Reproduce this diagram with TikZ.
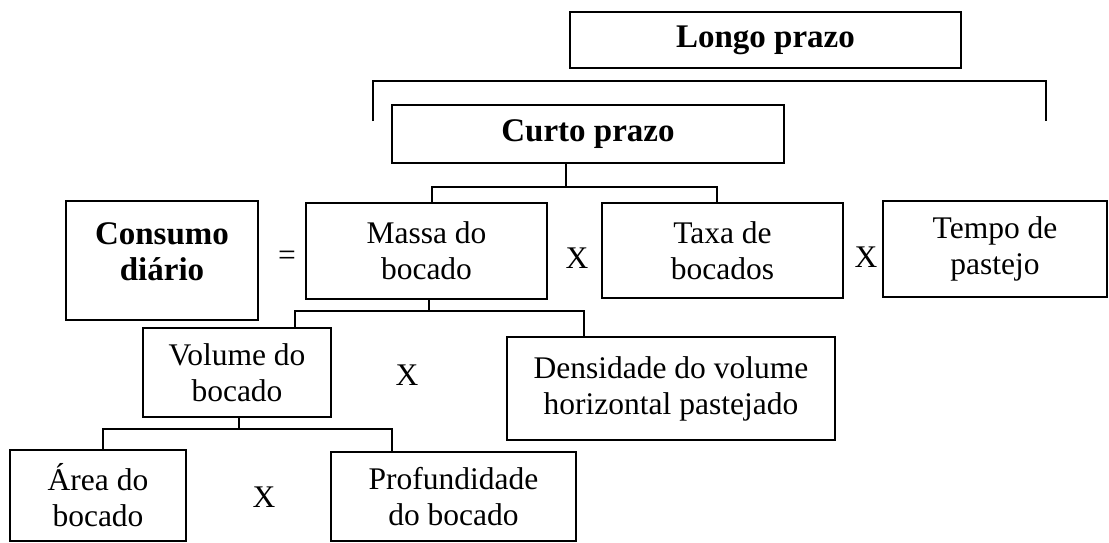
\documentclass[tikz,border=0pt]{standalone}
\usepackage{fontspec}
\setmainfont{Liberation Serif}
\begin{document}
\begin{tikzpicture}[x=1pt,y=-1pt,
  box/.style={draw, line width=2.4pt, rectangle, inner sep=0pt, align=center, font=\fontsize{31.5}{36}\selectfont},
  boldbox/.style={box, font=\fontsize{33}{37}\selectfont\bfseries},
  op/.style={font=\fontsize{31.5}{36}\selectfont, inner sep=0pt},
  conn/.style={line width=2.4pt}]
\useasboundingbox (0,0) rectangle (1109,542);
% boxes
\node[boldbox, minimum width=391pt, minimum height=56pt] (longo) at (765.5,40) {Longo prazo};
\node[boldbox, minimum width=392pt, minimum height=58pt] (curto) at (588,134) {Curto prazo};
\node[boldbox, minimum width=192pt, minimum height=119pt,
  label={[font=\fontsize{33}{36}\selectfont\bfseries, align=center, yshift=9pt]center:Consumo\\diário}] (consumo) at (162,260.5) {};
\node[box, minimum width=241pt, minimum height=96pt] (massa) at (426.5,251) {Massa do\\bocado};
\node[box, minimum width=241pt, minimum height=95pt] (taxa) at (722.5,250.5) {Taxa de\\bocados};
\node[box, minimum width=224pt, minimum height=96pt] (tempo) at (995,249) {Tempo de\\pastejo};
\node[box, minimum width=188pt, minimum height=89pt] (volume) at (237,372.5) {Volume do\\bocado};
\node[box, minimum width=328pt, minimum height=103pt] (dens) at (671,388.5) {Densidade do volume\\horizontal pastejado};
\node[box, minimum width=176pt, minimum height=91pt] (area) at (98,495.5) {Área do\\bocado};
\node[box, minimum width=245pt, minimum height=89pt] (prof) at (453.5,496.5) {Profundidade\\do bocado};
% operators
\node[op] (eq) at (287,258) {=};
\node[op] (x1) at (577,258) {X};
\node[op] (x2) at (866,257) {X};
\node[op] (x3) at (407,375) {X};
\node[op] (x4) at (264,497) {X};
% top bracket
\coordinate (bl) at (373,121);
\coordinate (br) at (1046,121);
\draw[conn] (bl) -- ++(0,-40) -| (br);
% curto -> massa, taxa
\coordinate (j1) at (566,187);
\coordinate (a1) at (432,187);
\coordinate (b1) at (717,187);
\draw[conn] (j1 |- curto.south) -- (j1);
\draw[conn] (a1 |- massa.north) -- (a1) -- (b1) -- (b1 |- taxa.north);
% massa -> volume, dens
\coordinate (j2) at (429,311);
\coordinate (a2) at (295,311);
\coordinate (b2) at (584,311);
\draw[conn] (j2 |- massa.south) -- (j2);
\draw[conn] (a2 |- volume.north) -- (a2) -- (b2) -- (b2 |- dens.north);
% volume -> area, prof
\coordinate (j3) at (239,429);
\coordinate (a3) at (103,429);
\coordinate (b3) at (392,429);
\draw[conn] (j3 |- volume.south) -- (j3);
\draw[conn] (a3 |- area.north) -- (a3) -- (b3) -- (b3 |- prof.north);
\end{tikzpicture}
\end{document}
